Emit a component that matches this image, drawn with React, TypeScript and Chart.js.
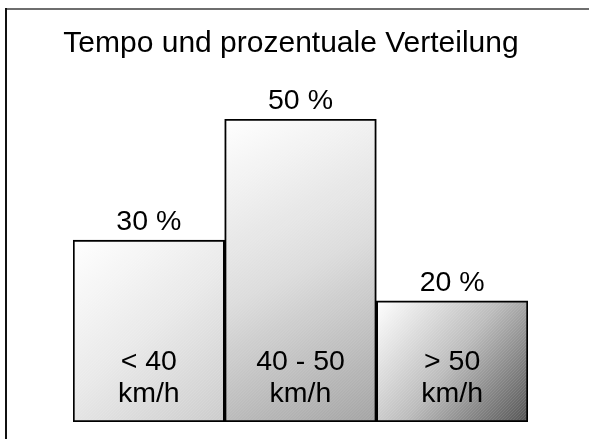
import React, { useEffect, useRef } from "react";
import { Chart, registerables } from "chart.js";

Chart.register(...registerables);

const title = "Tempo und prozentuale Verteilung";
const categoryLines = [
  ["< 40", "km/h"],
  ["40 - 50", "km/h"],
  ["> 50", "km/h"],
];
const values = [30, 50, 20];
const valueLabels = ["30 %", "50 %", "20 %"];
const gradientMids = ["#e9e9e9", "#dcdcdc", "#bcbcbc"];
const gradientEnds = ["#cccccc", "#a3a3a3", "#545454"];

const FONT = "'Liberation Sans', Arial, Helvetica, sans-serif";

function barRect(chart: any, i: number) {
  const xs = chart.scales.x;
  const ys = chart.scales.y;
  const w = xs.width / values.length;
  const cx = xs.getPixelForValue(i);
  return {
    left: cx - w / 2,
    right: cx + w / 2,
    top: ys.getPixelForValue(values[i]),
    bottom: ys.getPixelForValue(0),
  };
}

const framePlugin = {
  id: "frame",
  beforeDraw(chart: any) {
    const ctx = chart.ctx;
    ctx.save();
    ctx.fillStyle = "#ffffff";
    ctx.fillRect(0, 0, chart.width, chart.height);
    ctx.fillStyle = "#6e6e6e";
    ctx.fillRect(5, 8, chart.width - 5, 2);
    ctx.fillStyle = "#111111";
    ctx.fillRect(5, 8, 2, chart.height - 8);
    ctx.restore();
  },
};

const labelsPlugin = {
  id: "labels",
  afterDatasetsDraw(chart: any) {
    const ctx = chart.ctx;
    const meta = chart.getDatasetMeta(0);
    ctx.save();
    // subtle diagonal hatch
    meta.data.forEach((el: any) => {
      const l = el.x - el.width / 2 + 2;
      const r = el.x + el.width / 2 - 2;
      const t = el.y + 2;
      const b = el.base - 2;
      ctx.save();
      ctx.beginPath();
      ctx.rect(l, t, r - l, b - t);
      ctx.clip();
      ctx.strokeStyle = "rgba(255,255,255,0.12)";
      ctx.lineWidth = 1;
      for (let k = -(b - t); k < r - l; k += 3) {
        ctx.beginPath();
        ctx.moveTo(l + k, b);
        ctx.lineTo(l + k + (b - t), t);
        ctx.stroke();
      }
      ctx.restore();
    });
    ctx.fillStyle = "#000000";
    ctx.textAlign = "center";
    ctx.textBaseline = "alphabetic";
    ctx.font = `28.5px ${FONT}`;
    meta.data.forEach((el: any, i: number) => {
      ctx.fillText(valueLabels[i], el.x, el.y - 10);
      ctx.fillText(categoryLines[i][0], el.x, el.base - 52);
      ctx.fillText(categoryLines[i][1], el.x, el.base - 20);
    });
    ctx.font = `30px ${FONT}`;
    ctx.fillText(title, 291, 52);
    ctx.restore();
  },
};

export default function App() {
  const ref = useRef<HTMLCanvasElement | null>(null);
  useEffect(() => {
    document.body.style.margin = "0";
    const canvas = ref.current!;
    const chart = new Chart(canvas, {
      type: "bar",
      data: {
        labels: categoryLines.map((c) => c.join(" ")),
        datasets: [
          {
            data: values,
            backgroundColor: (c: any) => {
              const ch = c.chart;
              const i = c.dataIndex;
              if (!ch.chartArea || i === undefined) return "#cccccc";
              const r = barRect(ch, i);
              const g = ch.ctx.createLinearGradient(r.left, r.top, r.right, r.bottom);
              g.addColorStop(0, "#ffffff");
              g.addColorStop(0.5, gradientMids[i]);
              g.addColorStop(1, gradientEnds[i]);
              return g;
            },
            borderColor: "#000000",
            borderWidth: 2,
            borderSkipped: false,
            categoryPercentage: 1,
            barPercentage: 1,
          },
        ],
      },
      options: {
        responsive: false,
        animation: false,
        layout: { padding: { left: 73, right: 61, top: 119, bottom: 17 } },
        scales: {
          x: { display: false },
          y: { display: false, min: 0, max: 50 },
        },
        plugins: {
          legend: { display: false },
          tooltip: { enabled: false },
          title: { display: false },
        },
      },
      plugins: [framePlugin, labelsPlugin],
    });
    return () => chart.destroy();
  }, []);
  return (
    <canvas
      ref={ref}
      width={589}
      height={439}
      style={{ display: "block", position: "absolute", left: 0, top: 0 }}
    />
  );
}
